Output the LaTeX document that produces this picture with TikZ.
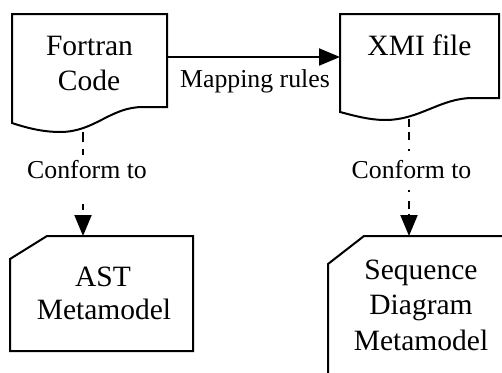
\documentclass[tikz,border=0pt]{standalone}
\usepackage{fontspec}
\setmainfont{Liberation Serif}
\usetikzlibrary{arrows.meta}
\tikzset{
  shapeline/.style={line width=2pt, fill=white, line join=miter},
  boxtext/.style={font=\fontsize{29.5}{35}\selectfont, anchor=base, inner sep=0pt},
  lbl/.style={font=\fontsize{25.8}{30}\selectfont, anchor=base, fill=white, inner xsep=2pt, inner ysep=0pt, text height=20pt, text depth=8pt},
  conn/.style={line width=2pt, -{Triangle[length=21pt,width=17pt]}},
}
\begin{document}
\begin{tikzpicture}[x=1pt,y=-1pt]
\useasboundingbox (0,0) rectangle (502,372);
\fill[white] (0,0) rectangle (502,372);
\begin{scope}
\clip (0,0) rectangle (502,372);
% shapes
\draw[shapeline] (12,14) -- (167,14) -- (167,107) -- (143,107)
  .. controls (110,107) and (95,132) .. (60,132)
  .. controls (45,132) and (30,129) .. (12,123) -- cycle;
\draw[shapeline] (340,14) -- (499,14) -- (499,98) -- (473,98)
  .. controls (440,98) and (420,120) .. (385,120)
  .. controls (370,120) and (355,116) .. (340,112) -- cycle;
\draw[shapeline] (10,259) -- (47,236) -- (193,236) -- (193,351) -- (10,351) -- cycle;
\draw[shapeline] (328,400) -- (328,264) -- (364,236) -- (530,236) -- (530,400) -- cycle;
\end{scope}
% texts
\node[boxtext] (f1) at (89.5,55) {Fortran};
\node[boxtext] (f2) at (89,90) {Code};
\node[boxtext] (x1) at (419.5,55) {XMI file};
\node[boxtext] (a1) at (103,286) {AST};
\node[boxtext] (a2) at (104,319) {Metamodel};
\node[boxtext] (s1) at (421,279) {Sequence};
\node[boxtext] (s2) at (421,314.5) {Diagram};
\node[boxtext] (s3) at (421,350) {Metamodel};
% connector anchors
\coordinate (fR) at (167,57);
\coordinate (xL) at (340,57);
\coordinate (fB) at (83,132);
\coordinate (aT) at (83,236);
\coordinate (xB) at (409,119);
\coordinate (sT) at (409,236);
% connectors
\draw[conn] (fR) -- (xL);
\draw[conn, dash pattern=on 10pt off 7pt] (fB) -- (aT);
\draw[conn, dash pattern=on 8pt off 5pt on 8pt off 9pt on 2pt off 9pt] (xB) -- (sT);
% labels
\node[font=\fontsize{25.8}{30}\selectfont, anchor=base, inner sep=0pt] (m) at (255,87) {Mapping rules};
\node[lbl, text height=23pt, text depth=26pt] (c1) at (87,178) {Conform to};
\node[lbl, text height=25pt, text depth=9pt] (c2) at (411.5,178) {Conform to};
\end{tikzpicture}
\end{document}
